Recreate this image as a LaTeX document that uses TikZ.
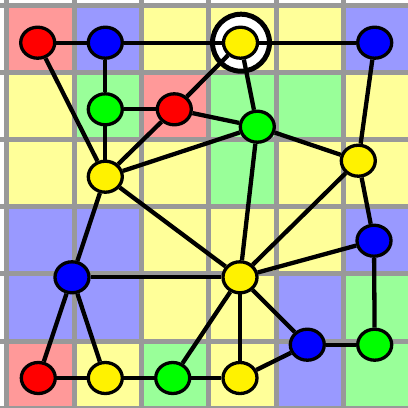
\documentclass[tikz,border=0pt]{standalone}
\usetikzlibrary{shapes.geometric}
\definecolor{cellred}{HTML}{FF9999}
\definecolor{cellblue}{HTML}{9999FF}
\definecolor{cellyellow}{HTML}{FFFF99}
\definecolor{cellgreen}{HTML}{99FF99}
\definecolor{gridgray}{HTML}{999999}
\tikzset{
  vertex/.style={ellipse,draw=black,line width=3.3pt,minimum width=34pt,minimum height=31pt,inner sep=0pt},
  link/.style={line width=4.3pt}
}
\begin{document}
\begin{tikzpicture}[x=1pt,y=-1pt]
\useasboundingbox (0,0) rectangle (408,408);
% cells
\foreach \row/\cols in {0/{cellred,cellblue,cellyellow,cellyellow,cellyellow,cellblue},
                        1/{cellyellow,cellgreen,cellred,cellgreen,cellgreen,cellyellow},
                        2/{cellyellow,cellyellow,cellyellow,cellgreen,cellyellow,cellyellow},
                        3/{cellblue,cellblue,cellyellow,cellyellow,cellyellow,cellblue},
                        4/{cellblue,cellblue,cellyellow,cellyellow,cellblue,cellgreen},
                        5/{cellred,cellyellow,cellgreen,cellyellow,cellblue,cellgreen}}
  \foreach \c [count=\col from 0] in \cols
    \fill[\c] (6.9+67.3*\col,5.5+67.1*\row) rectangle ++(67.3,67.1);
\foreach \k in {0,...,6}{
  \draw[gridgray,line width=5pt] (6.9+67.3*\k,0) -- (6.9+67.3*\k,408);
  \draw[gridgray,line width=5pt] (0,5.5+67.1*\k) -- (408,5.5+67.1*\k);
}
% ring
\draw[black,fill=white,line width=5pt] (241,42.7) circle (28.5);
%
\node[vertex,fill=red] (r1) at (37.7,42.7){};
\node[vertex,fill=blue] (b1) at (105.3,42.7){};
\node[vertex,fill=yellow] (y1) at (240.5,42.7){};
\node[vertex,fill=blue] (b2) at (374.7,42.7){};
\node[vertex,fill=green] (g1) at (105.3,109.3){};
\node[vertex,fill=red] (r2) at (174.3,109.3){};
\node[vertex,fill=green] (g2) at (257.3,126.7){};
\node[vertex,fill=yellow] (y2) at (105.3,176.7){};
\node[vertex,fill=yellow] (y3) at (358.3,160.7){};
\node[vertex,fill=blue] (b3) at (374,240.7){};
\node[vertex,fill=blue] (b4) at (72,277.3){};
\node[vertex,fill=yellow] (y4) at (240,277.3){};
\node[vertex,fill=blue] (b5) at (307.3,344.7){};
\node[vertex,fill=green] (g3) at (374.7,344.7){};
\node[vertex,fill=red] (r3) at (38.3,378){};
\node[vertex,fill=yellow] (y5) at (105.3,378){};
\node[vertex,fill=green] (g4) at (172.7,378){};
\node[vertex,fill=yellow] (y6) at (240,378){};
%
\draw[link] (r1)--(b1);
\draw[link] (b1)--(y1);
\draw[link] (y1)--(b2);
\draw[link] (b1)--(g1);
\draw[link] (r1)--(y2);
\draw[link] (g1)--(r2);
\draw[link] (g1)--(y2);
\draw[link] (r2)--(y1);
\draw[link] (r2)--(g2);
\draw[link] (y2)--(r2);
\draw[link] (y2)--(g2);
\draw[link] (y1)--(g2);
\draw[link] (g2)--(y3);
\draw[link] (b2)--(y3);
\draw[link] (g2)--(y4);
\draw[link] (y3)--(y4);
\draw[link] (y3)--(b3);
\draw[link] (y2)--(y4);
\draw[link] (y2)--(b4);
\draw[link] (b4)--(y4);
\draw[link] (b4)--(r3);
\draw[link] (b4)--(y5);
\draw[link] (r3)--(y5);
\draw[link] (y5)--(g4);
\draw[link] (g4)--(y4);
\draw[link] (g4)--(y6);
\draw[link] (y4)--(b3);
\draw[link] (y4)--(y6);
\draw[link] (y4)--(b5);
\draw[link] (y6)--(b5);
\draw[link] (b5)--(g3);
\draw[link] (b3)--(g3);
\end{tikzpicture}
\end{document}
